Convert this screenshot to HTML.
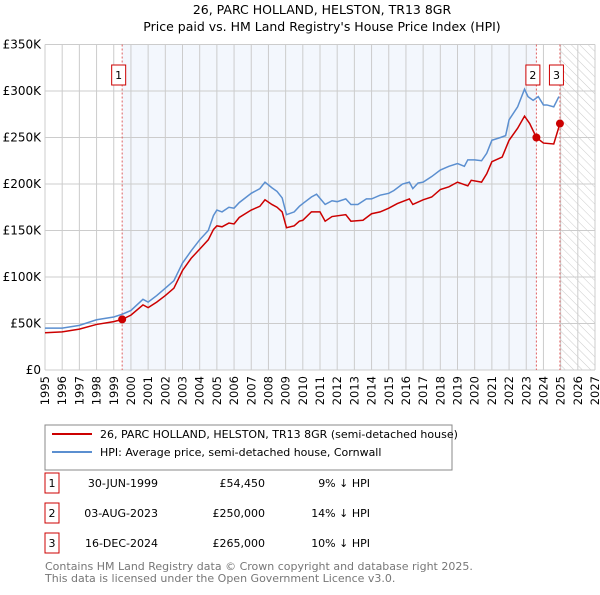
<!DOCTYPE html>
<html><head><meta charset="utf-8"><style>
body{margin:0;background:#fff;font-family:"Liberation Sans","DejaVu Sans",sans-serif;}
svg text{font-family:"DejaVu Sans","Liberation Sans",sans-serif;}
</style></head><body>
<svg id="c" width="600" height="590" xmlns="http://www.w3.org/2000/svg">
<defs><pattern id="hatch" width="6" height="6" patternUnits="userSpaceOnUse" patternTransform="rotate(-45)"><line x1="0" y1="0" x2="0" y2="6" stroke="#ccc" stroke-width="1"/></pattern></defs>
<text x="322" y="14" font-size="12.5" text-anchor="middle">26, PARC HOLLAND, HELSTON, TR13 8GR</text>
<text x="322" y="31" font-size="12.5" text-anchor="middle">Price paid vs. HM Land Registry's House Price Index (HPI)</text>
<g id="plot"></g>
<rect x="45" y="425" width="407" height="45" fill="#fff" stroke="#888"/>
<line x1="52" y1="434" x2="92" y2="434" stroke="#cc0000" stroke-width="2"/>
<text x="100" y="438" font-size="11">26, PARC HOLLAND, HELSTON, TR13 8GR (semi-detached house)</text>
<line x1="52" y1="452" x2="92" y2="452" stroke="#5b8fd0" stroke-width="2"/>
<text x="100" y="456" font-size="11">HPI: Average price, semi-detached house, Cornwall</text>
<g id="table" font-size="11"></g>
<text x="45" y="570" font-size="11" fill="#777">Contains HM Land Registry data © Crown copyright and database right 2025.</text>
<text x="45" y="582" font-size="11" fill="#777">This data is licensed under the Open Government Licence v3.0.</text>
</svg>
<script>
const hpiYears=[1995,1996,1997,1998,1999,1999.5,2000,2000.7,2001,2001.5,2002,2002.5,2003,2003.5,2004,2004.5,2004.8,2005,2005.3,2005.7,2006,2006.3,2007,2007.5,2007.8,2008.2,2008.5,2008.8,2009.05,2009.5,2009.8,2010,2010.5,2010.8,2011.3,2011.7,2012,2012.5,2012.8,2013.2,2013.7,2014,2014.5,2015,2015.3,2015.8,2016.2,2016.4,2016.7,2017,2017.5,2018,2018.5,2019,2019.4,2019.6,2020,2020.4,2020.7,2021,2021.5,2021.8,2022,2022.5,2022.9,2023.1,2023.4,2023.7,2024,2024.2,2024.6,2024.9];
const hpiValues=[45,45,48,54,57,60,64,76,73,80,88,96,115,128,140,150,166,172,170,175,174,180,190,195,202,196,192,185,167,170,176,179,186,189,178,182,181,184,178,178,184,184,188,190,193,200,202,195,201,202,208,215,219,222,219,226,226,225,233,247,250,252,269,283,302,294,290,294,285,285,283,294];
const propYears=[1995,1996,1997,1998,1999,1999.5,2000,2000.7,2001,2001.5,2002,2002.5,2003,2003.5,2004,2004.5,2004.8,2005,2005.3,2005.7,2006,2006.3,2007,2007.5,2007.8,2008.2,2008.5,2008.8,2009.05,2009.5,2009.8,2010,2010.5,2011,2011.3,2011.7,2012.5,2012.8,2013.5,2014,2014.5,2015,2015.5,2016.2,2016.4,2017,2017.5,2018,2018.5,2019,2019.6,2019.8,2020.4,2020.7,2021,2021.6,2022,2022.5,2022.9,2023.2,2023.59,2024,2024.6,2024.96];
const propValues=[40,41,44,49,52,54.45,59,70,67,73,80,88,107,120,130,140,151,155,154,158,157,164,172,176,183,178,175,170,153,155,160,161,170,170,160,165,167,160,161,168,170,174,179,184,178,183,186,194,197,202,198,204,202,211,224,229,247,260,273,265,250,244,243,265];
const saleLabels=["1","2","3"];
const saleYears=[1999.49,2023.59,2024.96];
const saleValues=[54.45,250,265];
const saleDates=["30-JUN-1999","03-AUG-2023","16-DEC-2024"];
const salePrices=["£54,450","£250,000","£265,000"];
const saleDiffs=["9% ↓ HPI","14% ↓ HPI","10% ↓ HPI"];
const yTicks=[0,50,100,150,200,250,300,350];
const yTickLabels=["£0","£50K","£100K","£150K","£200K","£250K","£300K","£350K"];
const xTicks=[];for(let y=1995;y<=2027;y++)xTicks.push(y);

const X0=45,X1=595,Y0=370,Y1=44.5;
const xs=v=>X0+(v-1995)/(2027-1995)*(X1-X0);
const ys=v=>Y0-v/350*(Y0-Y1);
const NS="http://www.w3.org/2000/svg";
const plot=document.getElementById('plot');
function mk(tag,at,parent){const e=document.createElementNS(NS,tag);for(const k in at)e.setAttribute(k,at[k]);(parent||plot).appendChild(e);return e;}

let bg=mk('rect',{x:xs(saleYears[0]),y:Y1,width:xs(saleYears[1])-xs(saleYears[0]),height:Y0-Y1,fill:'#eef3fc',opacity:0.7});


let ht=mk('rect',{x:xs(2025),y:Y1,width:X1-xs(2025),height:Y0-Y1,fill:'url(#hatch)'});


xTicks.forEach((t,i)=>{
  let l=mk('line',{x1:xs(t),x2:xs(t),y1:Y1,y2:Y0,stroke:'#cccccc','stroke-width':1});
  
  
  let tx=mk('text',{x:0,y:0,'font-size':11.5,transform:`translate(${xs(t)+4},${Y0+6}) rotate(-90)`,'text-anchor':'end'});
  tx.textContent=t;
  
  
});
yTicks.forEach((t,i)=>{
  let l=mk('line',{x1:X0,x2:X1,y1:ys(t),y2:ys(t),stroke:'#cccccc','stroke-width':1});
  
  
  let tx=mk('text',{x:X0-4,y:ys(t)+4,'font-size':12,'text-anchor':'end'});
  tx.textContent=yTickLabels[i];
  
  
});
saleYears.forEach((s,i)=>{
  let l=mk('line',{x1:xs(s),x2:xs(s),y1:Y1,y2:Y0,stroke:'#e06060','stroke-width':1,'stroke-dasharray':'2,2'});
  
  
});
let hp=mk('polyline',{points:hpiYears.map((y,i)=>xs(y)+','+ys(hpiValues[i])).join(' '),fill:'none',stroke:'#5b8fd0','stroke-width':1.5});


let pp=mk('polyline',{points:propYears.map((y,i)=>xs(y)+','+ys(propValues[i])).join(' '),fill:'none',stroke:'#cc0000','stroke-width':1.5});


saleYears.forEach((s,i)=>{
  let c=mk('circle',{cx:xs(s),cy:ys(saleValues[i]),r:4,fill:'#cc0000'});
  
  
  const bx=xs(s)-3.5-7;
  let r=mk('rect',{x:bx,y:65,width:14,height:20,fill:'#fff',stroke:'#cc0000'});
  
  
  let t=mk('text',{x:bx+7,y:79,'font-size':11,'text-anchor':'middle'});
  t.textContent=saleLabels[i];
  
  
});
const tb=document.getElementById('table');
saleLabels.forEach((s,i)=>{
  const y=483+i*30;
  let r=mk('rect',{x:45,y:y-10,width:14,height:20,fill:'#fff',stroke:'#cc0000'},tb);
  
  
  const cells=[[52,s,'middle','table-label'],[158,saleDates[i],'end','table-date'],[265,salePrices[i],'end','table-price'],[370,saleDiffs[i],'end','table-hpi-diff']];
  cells.forEach(c=>{let t=mk('text',{x:c[0],y:y+4,'text-anchor':c[2]},tb);t.textContent=c[1];
    
    });
});
</script>
</body></html>
